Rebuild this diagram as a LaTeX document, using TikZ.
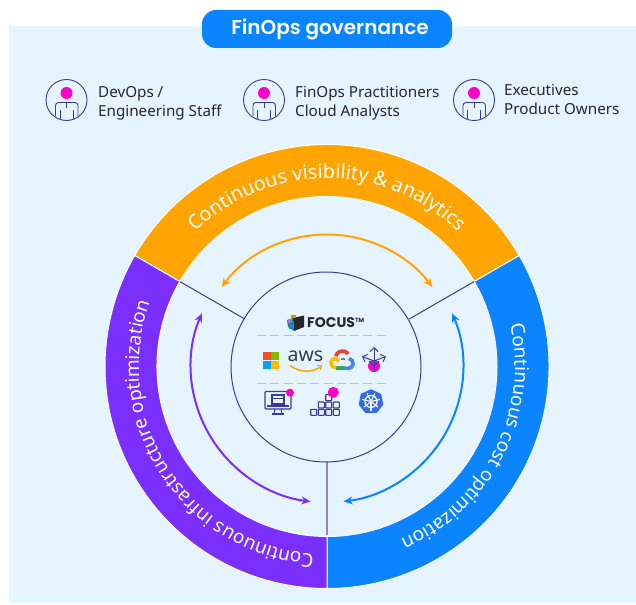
\documentclass[tikz,border=0pt]{standalone}
\usepackage{fontspec}
\setmainfont{Noto Sans}
\newfontfamily\popf{Poppins SemiBold}
\newfontfamily\popb{Poppins}
\usetikzlibrary{decorations.text,arrows.meta}
\definecolor{bgc}{HTML}{E6F4FF}
\definecolor{blu}{HTML}{0A84FF}
\definecolor{org}{HTML}{FFA400}
\definecolor{pur}{HTML}{7B2FFF}
\definecolor{ink}{HTML}{3A3A9E}
\definecolor{mag}{HTML}{FF00C8}
\definecolor{txt}{HTML}{26262E}
\definecolor{msr}{HTML}{F25022}
\definecolor{msg}{HTML}{7FBA00}
\definecolor{msb}{HTML}{00A4EF}
\definecolor{msy}{HTML}{FFB900}
\definecolor{gred}{HTML}{EA4335}
\definecolor{gblu}{HTML}{4285F4}
\definecolor{ggrn}{HTML}{34A853}
\definecolor{gyel}{HTML}{FBBC05}
\definecolor{kub}{HTML}{326CE5}
\definecolor{awsc}{HTML}{333E48}
\newcommand{\ringfont}{\fontsize{19}{23}\selectfont}
\newcommand{\ringfonttop}{\fontsize{19.7}{23}\selectfont}
\tikzset{
  lbl/.style={anchor=west,font=\fontsize{15.2}{19}\selectfont,text=txt,align=left,inner sep=0pt},
  sector/.style={draw=white,line width=1pt},
  spoke/.style={draw=ink,line width=1pt},
  dashrule/.style={draw=black!24,line width=1.3pt,dash pattern=on 9pt off 4.3pt},
  inkline/.style={draw=ink,line width=.9pt},
  twoway/.style={line width=2pt,{Stealth[length=9pt,width=8pt]}-{Stealth[length=9pt,width=8pt]}},
  person/.pic={
    \draw[inkline,fill=none] (0,0) circle (20.5);
    \fill[mag] (0,-7) circle (6);
    \draw[inkline,rounded corners=3pt] (-11,16) -- (-11,2.5) -- (11.5,2.5) -- (11.5,16);
    \draw[inkline] (-6.5,10) -- (-6.5,19.5) (6.5,10) -- (6.5,19.5) (0,2.5) -- (0,8);
  }
}
\begin{document}
\begin{tikzpicture}[x=1pt,y=-1pt]
\useasboundingbox (0,0) rectangle (636,604);
\fill[bgc] (9,26) rectangle (636,603);
\node[fill=blu,rounded corners=14pt,minimum width=250pt,minimum height=38pt,inner sep=0pt,text=white,
  font=\popf\fontsize{20}{24}\selectfont] (title) at (327,29) {\hspace{6pt}FinOps governance};
\pic at (66.5,100) {person};
\pic at (264,100) {person};
\pic at (474,100) {person};
\node[lbl] (a) at (98,103.5) {DevOps /\\Engineering Staff};
\node[lbl] (b) at (295,103.5) {FinOps Practitioners\\Cloud Analysts};
\node[lbl] (c) at (504,99.5) {Executives\\Product Owners};
\begin{scope}[shift={(327,366.5)},y=1pt]
  \filldraw[sector,fill=org] (150:222) arc (150:30:222) -- (30:170) arc (30:150:170) -- cycle;
  \filldraw[sector,fill=blu] (30:222) arc (30:-90:222) -- (-90:170) arc (-90:30:170) -- cycle;
  \filldraw[sector,fill=pur] (270:222) arc (270:150:222) -- (150:170) arc (150:270:170) -- cycle;
  \path[decorate,decoration={text along path,text align=center,text color=white,text={|\ringfonttop|Continuous visibility {\&} analytics}}] (150:188) arc (150:30:188);
  \path[decorate,decoration={text along path,text align=center,text color=white,text={|\ringfont|Continuous cost optimization}}] (33:188) arc (33:-87:188);
  \path[decorate,decoration={text along path,text align=center,text color=white,text={|\ringfont|Continuous infrastructure optimization}}] (273:188) arc (273:153:188);
  \coordinate (p1) at (150:170); \coordinate (p2) at (30:170); \coordinate (p3) at (270:168);
  \coordinate (q1) at (150:95); \coordinate (q2) at (30:95); \coordinate (q3) at (270:95);
  \draw[spoke] (q1) -- (p1);
  \draw[spoke] (q2) -- (p2);
  \draw[draw=ink!60,line width=1.5pt] (q3) -- (p3);
  \draw[twoway,org] (143:132) arc (143:37:132);
  \draw[twoway,pur] (157:136) arc (157:263:136);
  \draw[twoway,blu] (23:136) arc (23:-83:136);
  \draw[inkline,line width=1pt] (-1,-.5) circle (95);
\end{scope}
% FOCUS
\node[anchor=west,inner sep=0pt,text=txt,font=\popb\bfseries\fontsize{14}{18}\selectfont] (focus) at (307,323) {FOCUS\raisebox{5pt}{\fontsize{6}{7}\selectfont TM}};
\fill[txt] (293,318) -- (304,315.5) -- (304,327) -- (294,331) -- cycle;
\fill[teal!80!green] (287,320) -- (293,318) -- (294,331) -- (288,327) -- cycle;
\fill[orange] (291,314.5) rectangle (296,318);
\fill[pur!70] (288,319) rectangle (292,323);
\fill[blu] (289,325) rectangle (293,329);
\draw[dashrule] (257,335.5) -- (388,335.5);
\draw[dashrule] (257,383.5) -- (388,383.5);
% Microsoft
\fill[msr] (263,352) rectangle (270.6,360);
\fill[msg] (271.4,352) rectangle (279,360);
\fill[msb] (263,360.8) rectangle (270.6,369);
\fill[msy] (271.4,360.8) rectangle (279,369);
% aws
\node[inner sep=0pt,text=awsc,font=\fontsize{19.5}{18}\selectfont] (aws) at (305.5,356) {aws};
\draw[org,line width=1.5pt] (290,365.5) .. controls (300,373) and (312,372.5) .. (320.5,367);
\draw[org,line width=1.2pt] (316.5,365.5) -- (321.5,365.5) -- (320.5,370);
% GCP
\begin{scope}[shift={(342.5,358)},y=1pt,line width=3.6pt]
  \draw[gred] (165:7) arc (165:35:7);
  \draw[gblu] (6.5,-.5) arc (80:-90:5) -- (0,-10);
  \draw[ggrn] (0,-10) -- (-6.5,-10);
  \draw[gyel] (-6.5,-10) arc (-90:-250:5) -- (-3,-3);
  \draw[gblu,line width=2.5pt] (2.5,-1) -- (-2,-1);
\end{scope}
% multi arrow
\fill[mag] (374,366) circle (6);
\begin{scope}[inkline,line width=1pt]
  \draw[-{Straight Barb[length=4pt,width=8pt]}] (374,372) -- (374,347);
  \draw[-{Straight Barb[length=4pt,width=8pt]}] (374,361) -- (362,356.5);
  \draw[-{Straight Barb[length=4pt,width=8pt]}] (374,361) -- (386,356.5);
  \draw (369,361) -- (374,366) -- (379,361);
\end{scope}
% monitor
\begin{scope}[inkline,line width=1.1pt]
  \draw[rounded corners=1pt] (265,391.5) rectangle (291,409);
  \draw (272,395) rectangle (284,404);
  \draw (272,398.5) -- (284,398.5);
  \draw (267,406) -- (289,406);
  \draw (275,409) -- (274,413.5) (281,409) -- (282,413.5);
  \draw[line width=1.3pt] (271.5,414) -- (284,414);
\end{scope}
\fill[mag] (290,392.7) circle (4);
% blocks
\begin{scope}[inkline,line width=1.1pt,rounded corners=.6pt]
  \foreach \bx in {310.7,318.3,325.7,333.3}{\draw (\bx,409.3) rectangle ++(6,6);}
  \foreach \bx in {318.3,325.7,333.3}{\draw (\bx,402) rectangle ++(6,6);}
  \draw (325.7,394.6) rectangle ++(6,6);
\end{scope}
\fill[mag] (333.3,392.3) circle (5.5);
% k8s
\fill[kub,draw=kub,line width=1.5pt,line join=round] (371,390) -- (380.5,394.5) -- (382.5,404.5) -- (376.5,412) -- (365.5,412) -- (359.5,404.5) -- (361.5,394.5) -- cycle;
\draw[white,line width=1.2pt] (371,401.5) circle (6);
\foreach \ka in {0,51.43,102.86,154.29,205.71,257.14,308.57}{\draw[white,line width=1.1pt] (371,401.5) -- ++(\ka+90:9);}
\end{tikzpicture}
\end{document}
